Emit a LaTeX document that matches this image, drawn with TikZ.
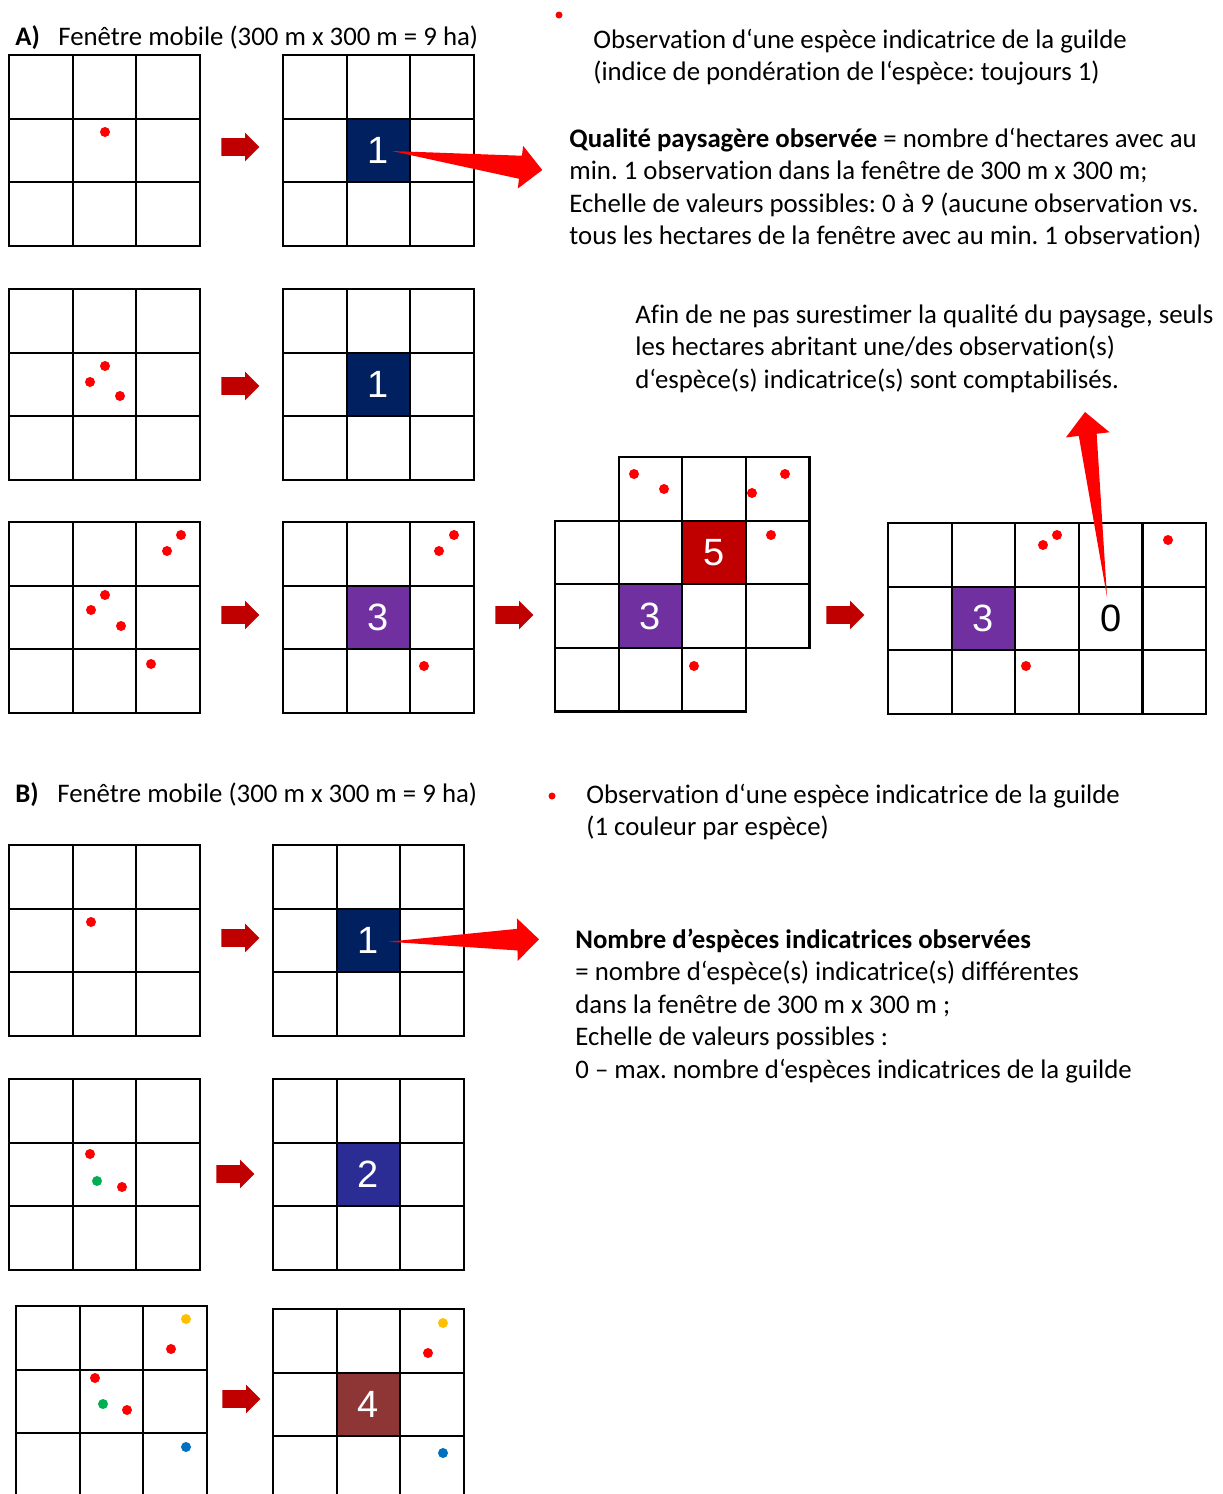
\documentclass[tikz,border=0pt]{standalone}
\usepackage{fontspec}
\setmainfont{Carlito}[Ligatures={TeX,NoCommon}]
\newfontfamily\chiffres{Liberation Sans}
\usepackage{xcolor}
\usetikzlibrary{positioning, calc, shapes.arrows}
\definecolor{bleunuit}{HTML}{002060}
\definecolor{violetcase}{HTML}{7030A0}
\definecolor{rougecase}{HTML}{C00000}
\definecolor{bleucase}{HTML}{2B2D94}
\definecolor{brunecase}{HTML}{8E3535}
\definecolor{flechesombre}{HTML}{C00000}
\definecolor{obsrouge}{HTML}{FF0000}
\definecolor{obsvert}{HTML}{00B050}
\definecolor{obsjaune}{HTML}{FFC000}
\definecolor{obsbleu}{HTML}{0070C0}

\newcommand{\taille}{63.6}
% grille de #3 x #4 hectares, coin en haut a gauche (#1,#2)
\newcommand{\fenetre}[4]{%
  \foreach \i in {0,...,#3} \draw[trait] (#1+\i*\taille, #2) -- ++(0, #4*\taille);
  \foreach \j in {0,...,#4} \draw[trait] (#1, #2+\j*\taille) -- ++(#3*\taille, 0);
}
% grande fleche rouge effilee de #1 vers #2
\newcommand{\coin}[5]{%
  \coordinate (tb) at ($(#2)!#3!(#1)$);
  \fill[obsrouge] (#1) -- ($(tb)!#5!90:(#2)$) -- ($(tb)!#4!90:(#2)$) -- (#2)
    -- ($(tb)!#4!-90:(#2)$) -- ($(tb)!#5!-90:(#2)$) -- cycle;
}

\tikzset{
  trait/.style={line width=1.1pt, line cap=rect},
  valcase/.style={minimum size=31.8pt, inner sep=0pt, text=white,
    font=\chiffres\fontsize{19}{20}\selectfont},
  petitefleche/.style={single arrow, fill=flechesombre, inner xsep=0pt, inner ysep=4.25pt,
    single arrow head extend=2.75pt, minimum height=19pt, anchor=tail},
  % ancre sur la ligne de base de la derniere ligne
  texte/.style={anchor=base west, inner sep=0pt, align=left,
    font=\fontsize{13.4}{16.25}\selectfont\frenchspacing},
}

\begin{document}
\begin{tikzpicture}[x=0.5pt, y=-0.5pt]
    \useasboundingbox (0,0) rectangle (1222,1494);
    \clip (0,0) rectangle (1222,1494);

    % A)
    \node[texte] (titrea) at (15,45) {\makebox[21.5pt][l]{\textbf{A)}}Fenêtre mobile (300 m x 300 m = 9 ha)};
    \fill[obsrouge] (559,15) circle[radius=3.5];
    \node[texte] (legendea) at (593,80.5) {Observation d‘une espèce indicatrice de la guilde\\
      (indice de pondération de l‘espèce: toujours 1)};
    \node[texte] (qualite) at (569,244.5) {\textbf{Qualité paysagère observée} = nombre d‘hectares avec au\\
      min. 1 observation dans la fenêtre de 300 m x 300 m;\\
      Echelle de valeurs possibles: 0 à 9 (aucune observation vs.\\
      tous les hectares de la fenêtre avec au min. 1 observation)};
    \node[texte] (afin) at (635,388) {Afin de ne pas surestimer la qualité du paysage, seuls\\
      les hectares abritant une/des observation(s)\\
      d‘espèce(s) indicatrice(s) sont comptabilisés.};

    \node[valcase, fill=bleunuit] (a1val) at (378.4,150.4) {1};
    \node[valcase, fill=bleunuit] (a2val) at (378.4,384.4) {1};
    \node[valcase, fill=violetcase] (a3val) at (378.4,617.4) {3};
    \node[valcase, fill=rougecase] (a3cinq) at (714,552.4) {5};
    \node[valcase, fill=violetcase] (a3trois) at (650.4,616) {3};
    \node[valcase, fill=violetcase] (a3final) at (983.4,618.4) {3};
    \node[valcase, text=black] (a3zero) at (1110.6,618.4) {0};

    \fenetre{9}{55}{3}{3}
    \fenetre{283}{55}{3}{3}
    \fenetre{9}{289}{3}{3}
    \fenetre{283}{289}{3}{3}
    \fenetre{9}{522}{3}{3}
    \fenetre{283}{522}{3}{3}
    \fenetre{618.6}{457}{3}{1}
    \fenetre{555}{520.6}{4}{2}
    \fenetre{555}{647.8}{3}{1}
    \fenetre{888}{523}{5}{3}

    \foreach \x/\y in {105/132, 105/366, 90/382, 120/396,
        181/535, 167/551, 105/595, 91/610, 121/626, 151/664,
        454/535, 439/551, 424/666,
        634/474, 664/489, 752/493, 785/474, 771/535, 694/666,
        1043/545, 1057/535, 1168/540, 1026/666}
      \fill[obsrouge] (\x,\y) circle[radius=5];

    \node[petitefleche] (fa1) at (221,147) {};
    \node[petitefleche] (fa2) at (221,386) {};
    \node[petitefleche] (fa3) at (221,615) {};
    \node[petitefleche] (fa4) at (495,615) {};
    \node[petitefleche] (fa5) at (826,615) {};

    \coordinate (a1debut) at ($(a1val.center)+(13.3,0.6)$);
    \coordinate (a1fin) at (542.3,170);
    \coin{a1debut}{a1fin}{11pt}{10.75pt}{5.8pt}
    \coordinate (a3debut) at ($(a3zero.center)+(-3.6,-21.4)$);
    \coordinate (a3fin) at (1085,412);
    \coin{a3debut}{a3fin}{11.5pt}{11pt}{4.5pt}

    % B)
    \node[texte] (titreb) at (15,802) {\makebox[21pt][l]{\textbf{B)}}Fenêtre mobile (300 m x 300 m = 9 ha)};
    \fill[obsrouge] (552,796) circle[radius=3.5];
    \node[texte] (legendeb) at (586,835.5) {Observation d‘une espèce indicatrice de la guilde\\
      (1 couleur par espèce)};
    \node[texte] (nombre) at (575,1078) {\textbf{Nombre d’espèces indicatrices observées}\\
      = nombre d‘espèce(s) indicatrice(s) différentes\\
      dans la fenêtre de 300 m x 300 m ;\\
      Echelle de valeurs possibles :\\
      0 – max. nombre d‘espèces indicatrices de la guilde};

    \node[valcase, fill=bleunuit] (b1val) at (368.4,940.4) {1};
    \node[valcase, fill=bleucase] (b2val) at (368.4,1174.4) {2};
    \node[valcase, fill=brunecase] (b3val) at (368.4,1404.4) {4};

    \fenetre{9}{845}{3}{3}
    \fenetre{273}{845}{3}{3}
    \fenetre{9}{1079}{3}{3}
    \fenetre{273}{1079}{3}{3}
    \fenetre{16}{1306}{3}{3}
    \fenetre{273}{1309}{3}{3}

    \foreach \x/\y/\c in {91/922/obsrouge,
        90/1154/obsrouge, 97/1181/obsvert, 122/1187/obsrouge,
        186/1319/obsjaune, 171/1349/obsrouge, 95/1378/obsrouge,
        103/1404/obsvert, 127/1410/obsrouge, 186/1447/obsbleu,
        443/1323/obsjaune, 428/1353/obsrouge, 443/1453/obsbleu}
      \fill[\c] (\x,\y) circle[radius=5];

    \node[petitefleche] (fb1) at (221,938) {};
    \node[petitefleche] (fb2) at (216,1174) {};
    \node[petitefleche] (fb3) at (222,1399) {};

    \coordinate (b1debut) at ($(b1val.center)+(20,1.3)$);
    \coordinate (b1fin) at (539,939.3);
    \coin{b1debut}{b1fin}{10.85pt}{10.65pt}{5.4pt}
\end{tikzpicture}
\end{document}
